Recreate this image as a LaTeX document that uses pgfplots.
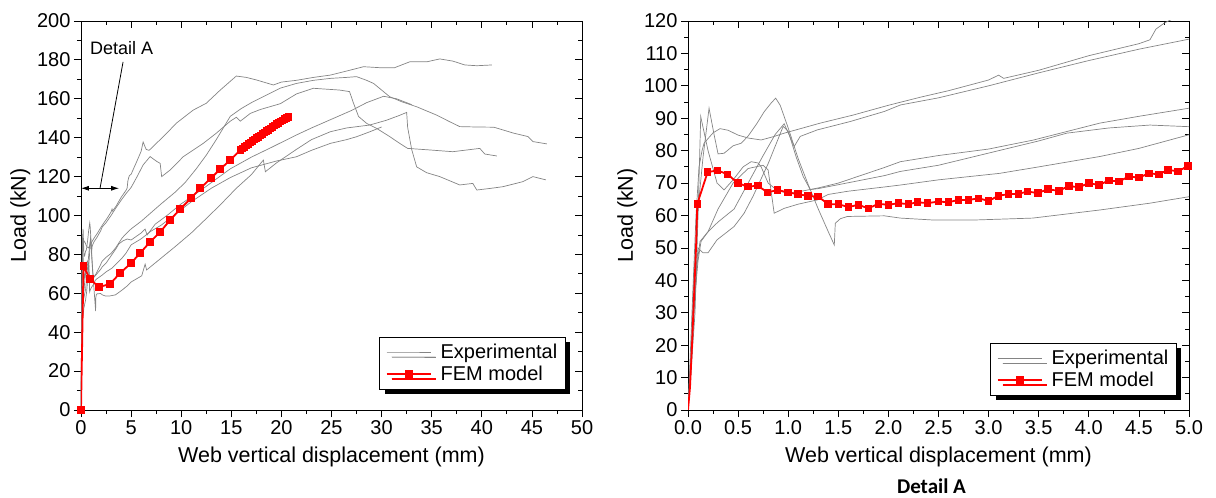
\documentclass[border=0pt]{standalone}
\usepackage{fontspec}
\setmainfont{Liberation Sans}
\newfontfamily\capfont{Carlito}
\usepackage{pgfplots}
\usepackage{pgfplotstable}
\pgfplotsset{compat=1.18}
\usetikzlibrary{shadows,arrows.meta}

\definecolor{expgray}{RGB}{132,132,132}
\definecolor{femred}{RGB}{255,0,0}

% experimental specimens, load (kN) vs web displacement (mm)
\pgfplotstableread{
x y
0 0
0.02 15
0.05 38
0.08 60
0.11 75
0.14 80
0.16 82.3
0.25 85.5
0.32 86.8
0.40 86.3
0.50 84.8
0.60 83.9
0.73 83.3
0.85 84.3
0.96 85.4
1.10 86.6
1.32 88.5
1.65 91.0
2.00 94.0
2.32 96.5
2.60 98.5
3.00 101.8
3.10 103.3
3.15 102.3
3.50 104.8
4.00 109.3
4.50 113.0
4.61 114.2
4.67 117.5
4.76 119.5
4.83 120.5
5.00 121.2
5.5 127
6.0 133
6.2 137.8
6.5 134
6.8 133.5
7.5 137
8.5 142
9.5 147.4
11.2 154.2
12.5 157.7
13.9 164.5
15.5 171.7
16.5 171.0
17.5 169.7
19.2 167.1
20.0 168.6
21.5 169.5
23.2 171.0
24.9 172.2
26.3 174.0
28.2 176.5
29.8 176.0
31.3 176.0
32.8 179.0
34.5 179.0
35.8 180.5
37.1 179.4
38.3 177.4
39.5 177.0
41.0 177.4
}\expA

\pgfplotstableread{
x y
0 0
0.03 15
0.06 32
0.10 46
0.13 52
0.20 55
0.30 58
0.46 62
0.60 70
0.75 78.5
0.87 85
0.96 88.3
1.06 81.3
1.12 84.4
1.29 86.4
1.62 89.0
1.96 92.1
2.12 94.1
2.50 96.3
3.00 100.0
3.50 104.0
4.00 107.8
4.50 111.3
5.00 114.4
5.6 120
6.2 126
6.9 130.3
7.5 128
7.9 126.8
8.05 120
8.9 123.4
10.2 130.2
12.2 137.1
13.5 142.3
14.9 148.5
15.5 150.5
15.9 148.5
16.9 152.5
17.9 154.5
19.9 157.5
21.5 162.5
23.2 165.4
25.8 164.5
26.8 163.7
27.2 157.7
27.7 150.9
28.5 147.4
29.5 144.8
30.8 140.6
31.8 137.1
32.6 134.5
34.8 133.7
37.1 132.8
39.8 134.5
40.3 131.6
41.5 130.6
}\expB

\pgfplotstableread{
x y
0 0
0.03 12
0.07 30
0.10 60
0.127 90.5
0.20 80
0.29 70
0.36 67.9
0.45 71
0.55 75
0.63 76.6
0.70 76.2
0.73 75
0.80 70
0.90 67.5
1.00 67
1.10 67.3
1.30 68.5
1.50 70
1.96 74.8
2.12 76.6
2.50 78.5
3.00 80.5
3.45 83.3
4.11 88.5
4.50 90.6
5.00 93.1
6.0 97
7.0 101.5
8.0 106
9.4 112
10.4 117
11.5 124
12.5 131
13.5 139
14.9 151
16.0 155
17.0 158
18.2 161.1
19.9 165.5
21.5 167.9
23.2 169.5
24.9 170.5
26.5 171
27.5 171.4
28.5 169.5
29.2 167.9
30.8 161.1
32.0 158.5
33.5 155.9
35.5 151.6
36.8 148.2
37.8 145.7
39.5 145.5
41.2 145.4
43.2 142.3
44.6 140.6
45.1 138
46.5 136.8
}\expC

\pgfplotstableread{
x y
0 0
0.03 14
0.07 38
0.10 50
0.15 48.5
0.20 48.5
0.29 52.5
0.46 56.6
0.56 60.7
0.65 66
0.80 76
0.95 87.5
1.00 86
1.08 78
1.15 72
1.22 68
1.30 68.3
1.50 69.5
1.96 72.3
2.12 73.6
2.50 75.5
2.90 78.5
3.50 83
3.78 85.4
4.20 87
4.61 87.9
5.00 87.4
6.0 91
6.4 93
6.6 90
7.4 95.5
8.7 100.5
10.0 106
11.0 109.5
12.5 115
14.9 124
17.0 130
19.0 135
21.5 141.4
23.0 145
25.0 149.5
27.0 154
28.5 158
30.2 161.3
31.5 160
33.0 157
}\expD

\pgfplotstableread{
x y
0 0
0.03 12
0.06 30
0.09 45
0.12 52
0.20 55
0.30 62
0.45 70
0.60 74.5
0.75 75.5
0.80 74
0.86 60.7
0.96 62.2
1.10 63.5
1.29 64.8
1.40 66.5
1.60 67.5
1.96 68.8
2.12 69.4
2.50 71
3.11 73
3.50 75
4.11 78.2
4.50 80.7
5.00 84.9
6.0 88
7.0 92
8.0 95
9.0 99
11.0 107
13.0 114
14.9 119.5
17.0 124.5
19.5 128
21.5 130.2
23.0 133.5
24.9 137.1
26.5 139
27.5 140.5
28.8 143
30.0 145.5
}\expE

\pgfplotstableread{
x y
0 0
0.03 18
0.06 42
0.10 62
0.15 78
0.21 93.1
0.26 85
0.30 79
0.36 79.2
0.45 81.5
0.53 82.3
0.60 84.5
0.69 88.5
0.76 92
0.83 94.7
0.875 96.2
0.92 94
1.00 87
1.10 77.5
1.20 69.5
1.30 62
1.40 55
1.46 50.9
1.47 57.6
1.52 59
1.59 59.7
1.96 59.9
2.12 59.2
2.45 58.6
2.85 58.6
3.44 59.2
4.11 61.7
4.61 63.8
5.00 65.8
6.06 69
6.4 75
6.55 72
7.5 76
9.4 84
11.0 91
12.7 99.4
14.0 106
15.5 114
17.0 121
18.2 128.5
18.4 122.5
19.5 127
21.5 134
23.0 139
24.9 143.1
26.5 145
28.8 146.5
30.5 149
31.8 151.5
32.5 153
32.6 145.3
33.0 134
33.5 125
34.5 122
35.8 120
37.8 115.7
39.1 116.5
39.5 113.1
40.8 113.9
42.1 114.8
44.1 117.4
45.1 120
46.4 118.3
}\expF

% FEM model, full range (coarse output)
\pgfplotstableread{
x y
0 0
0.25 74
0.9 67.3
1.8 63.2
2.9 64.8
3.9 70.4
5.0 75.5
5.9 80.7
6.9 86.4
7.9 91.5
8.9 97.7
9.9 103.3
11.0 109
11.9 114
13.0 119.3
13.9 123.9
14.9 128.5
15.9 133.7
16.1 134.4
16.3 135.2
16.5 135.9
16.7 136.7
16.9 137.5
17.1 138.2
17.3 139.0
17.5 139.7
17.7 140.5
17.9 141.2
18.1 141.9
18.3 142.7
18.5 143.4
18.7 144.1
18.9 144.8
19.1 145.5
19.3 146.2
19.5 146.9
19.7 147.6
19.9 148.3
20.1 148.9
20.3 149.5
20.5 150.1
20.7 150.6
}\femfull

% FEM model, first 5 mm (detail A)
\pgfplotstableread{
x y
0 0
0.02 7
0.04 20
0.06 35
0.08 50
0.093 63.6
}\femstart

\pgfplotstableread{
x y
0.093 63.6
0.196 73.4
0.296 73.9
0.396 72.7
0.496 70.0
0.596 68.9
0.696 69.2
0.795 67.1
0.895 67.9
0.995 67.1
1.10 66.6
1.20 66.0
1.30 65.8
1.40 63.5
1.50 63.5
1.60 62.6
1.70 63.3
1.80 62.2
1.90 63.6
2.00 63.3
2.10 63.8
2.20 63.5
2.29 64.1
2.39 63.8
2.50 64.3
2.60 64.1
2.70 64.8
2.80 64.8
2.90 65.3
3.00 64.5
3.10 66.1
3.20 66.6
3.30 66.7
3.39 67.4
3.49 66.9
3.59 68.1
3.70 67.6
3.80 69.1
3.90 68.7
4.00 70.0
4.10 69.4
4.20 70.8
4.30 70.5
4.40 72.0
4.50 71.7
4.60 73.0
4.70 72.7
4.79 74.1
4.89 73.6
4.99 75.3
}\femdetail

\pgfplotsset{
  base/.style={
    scale only axis, width=501pt, height=389pt, anchor=south west,
    axis line style={line width=0.9pt},
    every tick/.style={black, line width=0.8pt},
    major tick length=7pt, minor tick length=4pt,
    tick label style={font=\fontsize{20}{24}\selectfont},
    label style={font=\fontsize{21.5}{26}\selectfont},
    xlabel style={yshift=-5pt},
    /pgf/number format/assume math mode=true,
    minor x tick num=1, minor y tick num=1,
    legend cell align=left,
    legend image code/.code={\draw[mark repeat=2,mark phase=2] plot coordinates {(0pt,0pt) (22pt,0pt) (44pt,0pt)};},
  },
  inner/.style={xtick pos=right, ytick pos=right, tick align=inside,
    xticklabels={}, yticklabels={}},
  outer/.style={xtick pos=left, ytick pos=left, tick align=outside},
  leftax/.style={xmin=0, xmax=50, ymin=0, ymax=200,
    xtick={0,5,...,50}, ytick={0,20,...,200}},
  rightax/.style={xmin=0, xmax=5, ymin=0, ymax=120,
    xtick={0,0.5,1,1.5,2,2.5,3,3.5,4,4.5,5}, ytick={0,10,...,120},
    xticklabel style={/pgf/number format/.cd, fixed, fixed zerofill, precision=1}},
  exp/.style={expgray, line width=0.7pt, no markers},
  fem/.style={femred, line width=1.8pt, mark=square*, mark size=2.9pt},
  leg/.style={draw=black, line width=0.8pt, fill=white,
    font=\fontsize{20}{24}\selectfont,
    drop shadow={shadow xshift=5pt, shadow yshift=-5pt, fill=black, opacity=1},
    inner xsep=6pt, inner ysep=5pt, row sep=2pt, column sep=7pt},
}

\begin{document}
\begin{tikzpicture}
\useasboundingbox (0,0) rectangle (1216pt,498pt);

% left panel: full test
\begin{axis}[base, inner, leftax, at={(81pt,88pt)}]
\end{axis}
\begin{axis}[base, outer, leftax, at={(81pt,88pt)},
  xlabel={Web vertical displacement (mm)}, ylabel={Load (kN)},
  legend style={leg, at={(0.9675,0.053)}, anchor=south east}]
\addplot[exp] table {\expA};
\addlegendentry{Experimental}
\addplot[exp, forget plot] table {\expB};
\addplot[exp, forget plot] table {\expC};
\addplot[exp, forget plot] table {\expD};
\addplot[exp, forget plot] table {\expE};
\addplot[exp, forget plot] table {\expF};
\addplot[fem] table {\femfull};
\addlegendentry{FEM model}
\draw[line width=0.8pt] (axis cs:1.9,114) -- (axis cs:4.2,179);
\draw[{Latex[length=8pt,width=5pt]}-{Latex[length=8pt,width=5pt]}, line width=0.8pt]
  (axis cs:0,114) -- (axis cs:3.8,114);
\node[font=\fontsize{18}{22}\selectfont] at (axis cs:4.05,186.1) {Detail A};
\end{axis}

% right panel: detail A
\begin{axis}[base, inner, rightax, at={(688pt,88pt)}]
\end{axis}
\begin{axis}[base, outer, rightax, at={(688pt,88pt)},
  xlabel={Web vertical displacement (mm)}, ylabel={Load (kN)},
  legend style={leg, at={(0.9755,0.037)}, anchor=south east}]
\addplot[exp] table {\expA};
\addlegendentry{Experimental}
\addplot[exp, forget plot] table {\expB};
\addplot[exp, forget plot] table {\expC};
\addplot[exp, forget plot] table {\expD};
\addplot[exp, forget plot] table {\expE};
\addplot[exp, forget plot] table {\expF};
\addplot[femred, line width=1.8pt, no markers, forget plot] table {\femstart};
\addplot[fem] table {\femdetail};
\addlegendentry{FEM model}
\end{axis}

\node[font=\capfont\bfseries\fontsize{21}{25}\selectfont] at (931.5pt,11.3pt) {Detail A};
\end{tikzpicture}
\end{document}
